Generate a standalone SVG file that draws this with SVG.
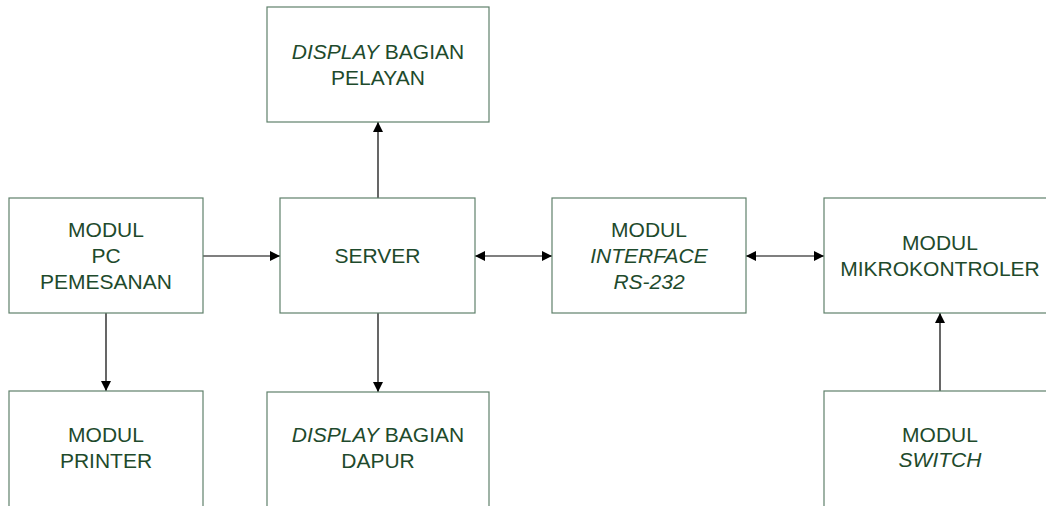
<svg xmlns="http://www.w3.org/2000/svg" width="1046" height="506" viewBox="0 0 1046 506">
<style>
.box{fill:#fff;stroke:#5f806b;stroke-width:1.2}
.t{font-family:"Liberation Sans",Arial,sans-serif;font-size:21px;fill:#1e4a2c;text-anchor:middle}
.i{font-style:italic}
.c{stroke:#000;stroke-width:1.2;fill:none}
</style>
<defs>
<marker id="ah" viewBox="0 0 10 10" refX="10" refY="5" markerWidth="10" markerHeight="10" markerUnits="userSpaceOnUse" orient="auto-start-reverse">
<path d="M0,0 L10,5 L0,10 Z" fill="#000"/>
</marker>
</defs>
<rect width="1046" height="506" fill="#fff"/>
<g id="connectors">
<line class="c" x1="203" y1="256" x2="280" y2="256" marker-end="url(#ah)"/>
<line class="c" x1="475" y1="256" x2="552" y2="256" marker-start="url(#ah)" marker-end="url(#ah)"/>
<line class="c" x1="746" y1="256" x2="824" y2="256" marker-start="url(#ah)" marker-end="url(#ah)"/>
<line class="c" x1="378" y1="198" x2="378" y2="122" marker-end="url(#ah)"/>
<line class="c" x1="106" y1="313" x2="106" y2="391" marker-end="url(#ah)"/>
<line class="c" x1="378" y1="313" x2="378" y2="392" marker-end="url(#ah)"/>
<line class="c" x1="940" y1="391" x2="940" y2="313" marker-end="url(#ah)"/>
</g>
<g id="display-pelayan">
<rect class="box" x="267" y="7" width="222" height="115"/>
<text class="t" x="378" y="59"><tspan class="i">DISPLAY</tspan> BAGIAN</text>
<text class="t" x="378" y="85">PELAYAN</text>
</g>
<g id="pc-pemesanan">
<rect class="box" x="9" y="198" width="194" height="115"/>
<text class="t" x="106" y="237">MODUL</text>
<text class="t" x="106" y="263">PC</text>
<text class="t" x="106" y="289">PEMESANAN</text>
</g>
<g id="server">
<rect class="box" x="280" y="198" width="195" height="115"/>
<text class="t" x="377.5" y="263">SERVER</text>
</g>
<g id="interface">
<rect class="box" x="552" y="198" width="194" height="115"/>
<text class="t" x="649" y="237">MODUL</text>
<text class="t i" x="649" y="263">INTERFACE</text>
<text class="t i" x="649" y="289">RS-232</text>
</g>
<g id="mikrokontroler">
<rect class="box" x="824" y="198" width="232" height="115"/>
<text class="t" x="940" y="250">MODUL</text>
<text class="t" x="940" y="276">MIKROKONTROLER</text>
</g>
<g id="printer">
<rect class="box" x="9" y="391" width="194" height="125"/>
<text class="t" x="106" y="442">MODUL</text>
<text class="t" x="106" y="468">PRINTER</text>
</g>
<g id="display-dapur">
<rect class="box" x="267" y="392" width="222" height="125"/>
<text class="t" x="378" y="442"><tspan class="i">DISPLAY</tspan> BAGIAN</text>
<text class="t" x="378" y="468">DAPUR</text>
</g>
<g id="switch">
<rect class="box" x="824" y="391" width="232" height="125"/>
<text class="t" x="940" y="442">MODUL</text>
<text class="t i" x="940" y="467">SWITCH</text>
</g>
</svg>
